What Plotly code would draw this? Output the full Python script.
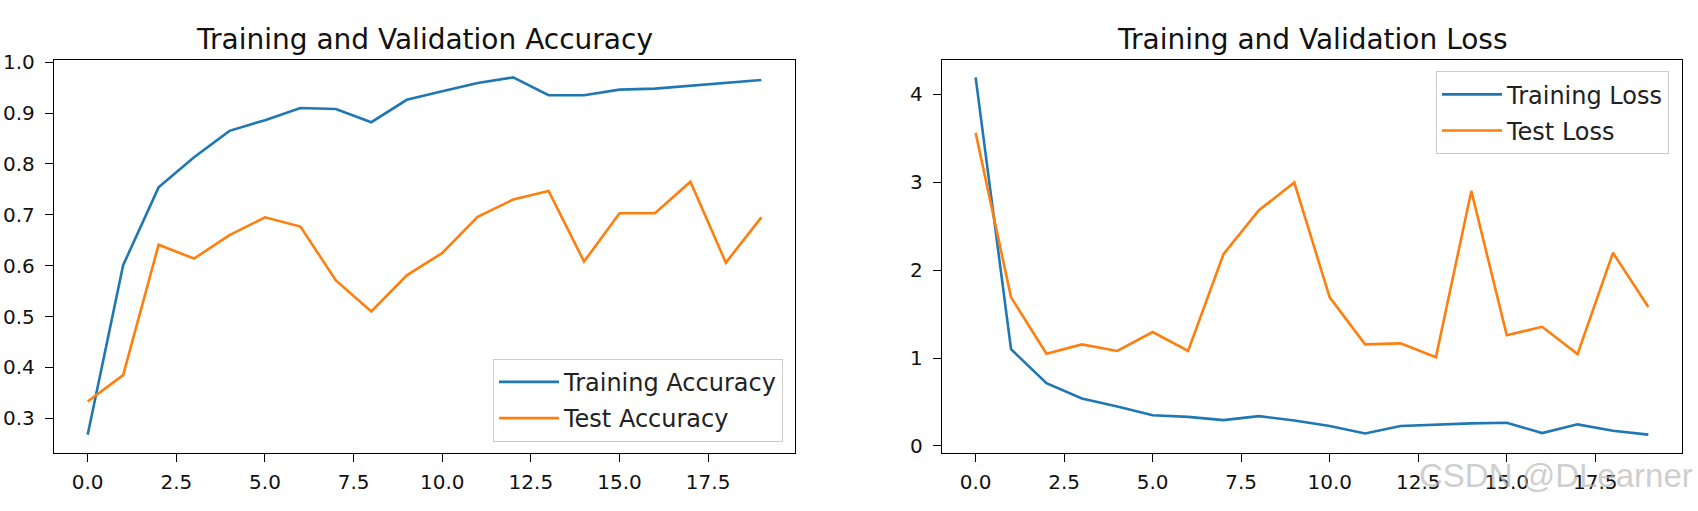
import plotly.graph_objects as go

epochs = list(range(20))
train_acc = [0.268, 0.601, 0.754, 0.813, 0.865, 0.886, 0.910, 0.908, 0.882, 0.926,
             0.943, 0.959, 0.970, 0.935, 0.935, 0.946, 0.948, 0.954, 0.959, 0.965]
test_acc = [0.333, 0.385, 0.641, 0.614, 0.660, 0.695, 0.677, 0.571, 0.510, 0.581,
            0.625, 0.696, 0.730, 0.747, 0.608, 0.703, 0.703, 0.765, 0.606, 0.695]
train_loss = [4.19, 1.10, 0.714, 0.541, 0.449, 0.350, 0.331, 0.294, 0.340, 0.290,
              0.228, 0.143, 0.228, 0.246, 0.257, 0.265, 0.147, 0.246, 0.173, 0.129]
test_loss = [3.56, 1.69, 1.05, 1.155, 1.08, 1.295, 1.08, 2.18, 2.68, 2.995,
             1.69, 1.155, 1.167, 1.01, 2.90, 1.26, 1.355, 1.045, 2.196, 1.58]

x_ticks = [0, 2.5, 5, 7.5, 10, 12.5, 15, 17.5]
x_ticklabels = ["0.0", "2.5", "5.0", "7.5", "10.0", "12.5", "15.0", "17.5"]
acc_ticks = [0.3, 0.4, 0.5, 0.6, 0.7, 0.8, 0.9, 1.0]
acc_ticklabels = ["0.3", "0.4", "0.5", "0.6", "0.7", "0.8", "0.9", "1.0"]
loss_ticks = [0, 1, 2, 3, 4]
loss_ticklabels = ["0", "1", "2", "3", "4"]

titles = ["Training and Validation Accuracy", "Training and Validation Loss"]
watermark = "CSDN @DLearner"

BLUE = "#1f77b4"
ORANGE = "#ff7f0e"
W, H = 1698, 511
FONT = "DejaVu Sans"


def padded(vals, m=0.05):
    lo, hi = min(vals), max(vals)
    r = hi - lo
    return [lo - m * r, hi + m * r]


xr = padded(epochs)
acc_range = padded(train_acc + test_acc)
loss_range = padded(train_loss + test_loss)

fig = go.Figure()
fig.add_trace(go.Scatter(x=epochs, y=train_acc, mode="lines", name="Training Accuracy",
                         line=dict(color=BLUE, width=2.6), xaxis="x", yaxis="y",
                         legend="legend", legendgroup="a"))
fig.add_trace(go.Scatter(x=epochs, y=test_acc, mode="lines", name="Test Accuracy",
                         line=dict(color=ORANGE, width=2.6), xaxis="x", yaxis="y",
                         legend="legend", legendgroup="b"))
fig.add_trace(go.Scatter(x=epochs, y=train_loss, mode="lines", name="Training Loss",
                         line=dict(color=BLUE, width=2.6), xaxis="x2", yaxis="y2",
                         legend="legend2", legendgroup="c"))
fig.add_trace(go.Scatter(x=epochs, y=test_loss, mode="lines", name="Test Loss",
                         line=dict(color=ORANGE, width=2.6), xaxis="x2", yaxis="y2",
                         legend="legend2", legendgroup="d"))

dom1 = [54 / W, 795 / W]
dom2 = [942 / W, 1682 / W]
ydom = [1 - 456 / H, 1 - 52 / H]

axis_common = dict(showline=True, linecolor="black", linewidth=1.3, mirror=True,
                   ticks="outside", ticklen=8, tickwidth=1.3, tickcolor="black",
                   showgrid=False, zeroline=False,
                   tickfont=dict(family=FONT, size=20, color="#111111"))

legend_common = dict(bgcolor="white", bordercolor="#cccccc", borderwidth=1,
                     tracegroupgap=2, itemwidth=60,
                     font=dict(family=FONT, size=24, color="#222222"))

fig.update_layout(
    width=W, height=H,
    margin=dict(l=0, r=0, t=0, b=0),
    paper_bgcolor="white", plot_bgcolor="white",
    font=dict(family=FONT, color="black"),
    xaxis=dict(domain=dom1, anchor="y", range=xr, tickvals=x_ticks, ticktext=x_ticklabels,
               ticklabelstandoff=3, **axis_common),
    yaxis=dict(domain=ydom, anchor="x", range=acc_range, tickvals=acc_ticks,
               ticktext=acc_ticklabels, ticklabelstandoff=6, **axis_common),
    xaxis2=dict(domain=dom2, anchor="y2", range=xr, tickvals=x_ticks, ticktext=x_ticklabels,
                ticklabelstandoff=3, **axis_common),
    yaxis2=dict(domain=ydom, anchor="x2", range=loss_range, tickvals=loss_ticks,
                ticktext=loss_ticklabels, ticklabelstandoff=6, **axis_common),
    legend=dict(x=783 / W, y=1 - 445 / H, xanchor="right", yanchor="bottom", **legend_common),
    legend2=dict(x=1669 / W, y=1 - 64 / H, xanchor="right", yanchor="top", **legend_common),
    showlegend=True,
)

for dom, t in zip([dom1, dom2], titles):
    fig.add_annotation(text=t, x=(dom[0] + dom[1]) / 2, y=1 - 31 / H, xref="paper", yref="paper",
                       xanchor="center", yanchor="middle", showarrow=False,
                       font=dict(family=FONT, size=28, color="#111111"))

fig.add_annotation(text=watermark, x=1 - 3 / W, y=1 - 480 / H, xref="paper", yref="paper",
                   xanchor="right", yanchor="middle", showarrow=False,
                   font=dict(family="Liberation Sans", size=33, color="rgba(185,185,185,0.7)"))

fig.write_html("out.html", config={"displayModeBar": False},
               post_script="document.body.style.margin='0';document.body.style.overflow='hidden';")
